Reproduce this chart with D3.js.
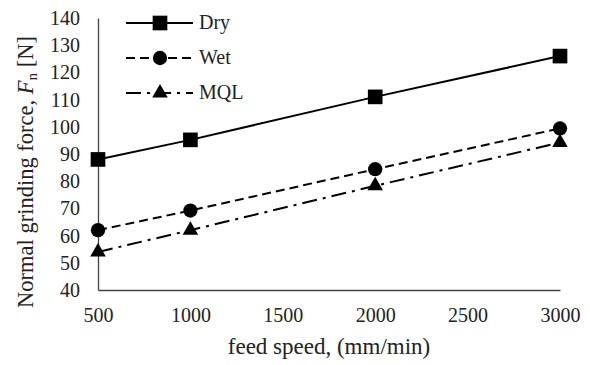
<!DOCTYPE html>
<meta charset="utf-8">
<script src="https://d3js.org/d3.v7.min.js"></script>
<style>
    body { margin: 0; background: #fff; }
    svg text { font-family: "Liberation Serif", "Times New Roman", Times, serif; fill: #222; }
</style>
<div id="chart"></div>
<script>
    // data
    let feedSpeed = [500, 1000, 2000, 3000];
    let dryForce = [88, 95.2, 111, 126];
    let wetForce = [62, 69.2, 84.4, 99.4];
    let mqlForce = [54, 62, 78.3, 94.2];
    let xTicks = [500, 1000, 1500, 2000, 2500, 3000];
    let yTicks = [40, 50, 60, 70, 80, 90, 100, 110, 120, 130, 140];

    let series = [
        {name: "Dry", values: dryForce, dash: null, marker: "square"},
        {name: "Wet", values: wetForce, dash: "9,5", marker: "circle"},
        {name: "MQL", values: mqlForce, dash: "15,6,3,6", marker: "triangle"}
    ];

    let W = 590, H = 365;
    let margin = {top: 18, right: 30, bottom: 75, left: 98};
    let width = W - margin.left - margin.right,
        height = H - margin.top - margin.bottom;

    let svg = d3.select("#chart").append("svg")
        .attr("width", W).attr("height", H);
    let g = svg.append("g")
        .attr("transform", "translate(" + margin.left + "," + margin.top + ")");

    let x = d3.scaleLinear().domain([500, 3000]).range([0, width]);
    let y = d3.scaleLinear().domain([40, 140]).range([height, 0]);

    // axes: just the line and the labels, no tick marks
    let xAxis = g.append("g")
        .attr("transform", "translate(0," + height + ")")
        .call(d3.axisBottom(x).tickValues(xTicks).tickSize(0).tickPadding(18).tickFormat(d3.format("d")));
    let yAxis = g.append("g")
        .call(d3.axisLeft(y).tickValues(yTicks).tickSize(0).tickPadding(18));
    [xAxis, yAxis].forEach(function (a) {
        a.attr("font-family", null).attr("font-size", null);
        a.select(".domain").attr("stroke", "#444").attr("stroke-width", 1.3);
        a.selectAll("text").style("font-size", "20px").attr("fill", "#222");
    });

    let symbols = {
        square: d3.symbol().type(d3.symbolSquare).size(215),
        circle: d3.symbol().type(d3.symbolCircle).size(160),
        triangle: d3.symbol().type(d3.symbolTriangle).size(105)
    };

    let line = d3.line()
        .x(function (d) { return x(d.x); })
        .y(function (d) { return y(d.y); });

    series.forEach(function (s) {
        let pts = feedSpeed.map(function (f, i) { return {x: f, y: s.values[i]}; });
        g.append("path")
            .datum(pts)
            .attr("fill", "none")
            .attr("stroke", "#000")
            .attr("stroke-width", 2)
            .attr("stroke-dasharray", s.dash)
            .attr("d", line);
        g.selectAll(null)
            .data(pts)
            .enter().append("path")
            .attr("transform", function (d) { return "translate(" + x(d.x) + "," + y(d.y) + ")"; })
            .attr("d", symbols[s.marker])
            .attr("fill", "#000");
    });

    // legend
    let legend = svg.append("g").attr("transform", "translate(126,23)");
    series.forEach(function (s, i) {
        let row = legend.append("g").attr("transform", "translate(0," + (i * 35) + ")");
        row.append("line")
            .attr("x1", 0).attr("x2", 67).attr("y1", 0).attr("y2", 0)
            .attr("stroke", "#000").attr("stroke-width", 2)
            .attr("stroke-dasharray", s.dash);
        row.append("path")
            .attr("transform", "translate(34,0)")
            .attr("d", symbols[s.marker])
            .attr("fill", "#000");
        row.append("text")
            .attr("x", 73).attr("y", 6)
            .style("font-size", "20px")
            .text(s.name);
    });

    // axis titles
    svg.append("text")
        .attr("x", 329)
        .attr("y", 354)
        .attr("text-anchor", "middle")
        .style("font-size", "23px")
        .text("feed speed, (mm/min)");

    let yt = svg.append("text")
        .attr("transform", "translate(33,172) rotate(-90)")
        .attr("text-anchor", "middle")
        .style("font-size", "22.5px");
    yt.append("tspan").text("Normal grinding force, ");
    yt.append("tspan").style("font-style", "italic").text("F");
    yt.append("tspan").style("font-size", "15px").attr("dy", 4).text("n");
    yt.append("tspan").attr("dy", -4).text(" [N]");
</script>
